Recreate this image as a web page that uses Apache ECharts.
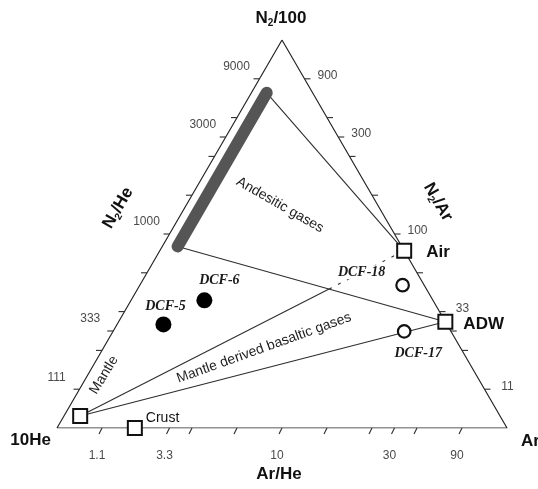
<!DOCTYPE html>
<html><head><meta charset="utf-8">
<script src="https://cdn.jsdelivr.net/npm/echarts@6/dist/echarts.min.js"></script>
<style>html,body{margin:0;padding:0;background:#fff}#c{width:538px;height:489px}</style>
</head><body><div id="c"></div>
<script>
// ---- DATA (ternary fractions: N2/100 , 10He , Ar ; He = 1 - N2 - Ar) ----
const tickFractions = [0.1, 0.2, 0.25, 0.3, 0.4, 0.5, 0.6, 0.7, 0.75, 0.8, 0.9];
const bottomTickFractions = [0.1, 0.25, 0.3, 0.4, 0.5, 0.6, 0.7, 0.75, 0.8, 0.9];

const n2HeTickLabels = ['111', '333', '1000', '3000', '9000'];
const n2HeLabelFractions = [0.1, 0.25, 0.5, 0.75, 0.9];
const n2ArTickLabels = ['11', '33', '100', '300', '900'];
const n2ArLabelFractions = [0.1, 0.3, 0.5, 0.75, 0.9];
const arHeTickLabels = ['1.1', '3.3', '10', '30', '90'];
const arHeLabelFractions = [0.1, 0.25, 0.5, 0.75, 0.9];

const endmemberNames = ['Air', 'ADW', 'Mantle', 'Crust'];
const endmemberN2 = [0.457, 0.274, 0.031, 0.0];
const endmemberAr = [0.543, 0.726, 0.036, 0.173];

const sampleNames = ['DCF-5', 'DCF-6', 'DCF-18', 'DCF-17'];
const sampleN2 = [0.267, 0.329, 0.368, 0.249];
const sampleAr = [0.103, 0.163, 0.584, 0.647];

const andesiticEnds = ['upper', 'lower'];
const andesiticN2 = [0.864, 0.468];
const andesiticAr = [0.034, 0.034];

// ---- helpers ----
const SQ3 = Math.sqrt(3) / 2;
function toXY(n, a) { return [a + n / 2, n * SQ3]; }
function em(name) { const i = endmemberNames.indexOf(name); return toXY(endmemberN2[i], endmemberAr[i]); }
function intersect(p1, p2, p3, p4) {
  const d = (p1[0]-p2[0])*(p3[1]-p4[1]) - (p1[1]-p2[1])*(p3[0]-p4[0]);
  const t = ((p1[0]-p3[0])*(p3[1]-p4[1]) - (p1[1]-p3[1])*(p3[0]-p4[0])) / d;
  return [p1[0] + t*(p2[0]-p1[0]), p1[1] + t*(p2[1]-p1[1])];
}

const vL = toXY(0, 0), vR = toXY(0, 1), vT = toXY(1, 0);
const bandTop = toXY(andesiticN2[0], andesiticAr[0]);
const bandBot = toXY(andesiticN2[1], andesiticAr[1]);
const pAir = em('Air'), pADW = em('ADW'), pMantle = em('Mantle'), pCrust = em('Crust');
const pX = intersect(pMantle, pAir, bandBot, pADW);

// tick items
const SIDE = {
  left:   { dx: -6, dy: 0, lx: -23, ly: -12 },
  right:  { dx: 6,  dy: 0, lx: 23,  ly: -3 },
  bottom: { dx: -3, dy: 6, lx: -5,  ly: 28 }
};
const tickItems = [];
tickFractions.forEach(f => tickItems.push({ side: 'left', p: toXY(f, 0) }));
tickFractions.forEach(f => tickItems.push({ side: 'right', p: toXY(f, 1 - f) }));
bottomTickFractions.forEach(f => tickItems.push({ side: 'bottom', p: toXY(0, f) }));
n2HeLabelFractions.forEach((f, i) => tickItems.push({ side: 'left', p: toXY(f, 0), label: n2HeTickLabels[i] }));
n2ArLabelFractions.forEach((f, i) => tickItems.push({ side: 'right', p: toXY(f, 1 - f), label: n2ArTickLabels[i] }));
arHeLabelFractions.forEach((f, i) => tickItems.push({ side: 'bottom', p: toXY(0, f), label: arHeTickLabels[i] }));

const SANS = '"Liberation Sans", Arial, sans-serif';
const SERIF = '"Liberation Serif", "Times New Roman", serif';
const LINE = '#2e2e2e';

function seg(a, b, extra) {
  return Object.assign({
    type: 'line', data: [a, b], symbol: 'none', silent: true, z: 2,
    lineStyle: { color: LINE, width: 1.1 }, animation: false
  }, extra || {});
}

const sampleLabelOffsets = [[2, -18], [15, -20], [-41, -13], [14, 22]];
const sampleData = sampleNames.map((nm, i) => ({
  value: toXY(sampleN2[i], sampleAr[i]),
  name: nm,
  label: {
    show: true, position: 'inside', offset: sampleLabelOffsets[i], formatter: nm,
    fontFamily: SERIF, fontWeight: 'bold', fontStyle: 'italic', fontSize: 14, color: '#1a1a1a',
    backgroundColor: i === 2 ? '#fff' : 'transparent', padding: [0, 1]
  }
}));

const emLabelCfg = {
  Air:   { offset: [22, 2], fontSize: 17, fontWeight: 'bold' },
  ADW:   { offset: [18, 3], fontSize: 17, fontWeight: 'bold' },
  Crust: { offset: [11, -10], fontSize: 14, fontWeight: 'normal' }
};
const emData = endmemberNames.map((nm, i) => {
  const c = emLabelCfg[nm];
  return {
    value: toXY(endmemberN2[i], endmemberAr[i]), name: nm,
    label: c ? {
      show: true, position: 'inside', align: 'left', offset: c.offset, formatter: nm,
      fontFamily: SANS, fontSize: c.fontSize, fontWeight: c.fontWeight, color: '#111'
    } : { show: false }
  };
});

const chart = echarts.init(document.getElementById('c'), null, { renderer: 'canvas' });

const subRich = {
  b: { fontFamily: SANS, fontWeight: 'bold', fontSize: 17, fill: '#111', lineHeight: 20, verticalAlign: 'middle' },
  s: { fontFamily: SANS, fontWeight: 'bold', fontSize: 10, fill: '#111', lineHeight: 20, verticalAlign: 'bottom' }
};
function txt(x, y, text, opt) {
  return {
    type: 'text', x: x, y: y, rotation: (opt && opt.rot) || 0, silent: true, z: 10,
    style: Object.assign({
      text: text, align: 'center', verticalAlign: 'middle',
      fontFamily: SANS, fontSize: 14, fill: '#1e1e1e'
    }, (opt && opt.style) || {})
  };
}
const boldStyle = { fontWeight: 'bold', fontSize: 17, fill: '#111' };

chart.setOption({
  animation: false,
  backgroundColor: '#fff',
  grid: { left: 57, right: 31, top: 40, bottom: 61, show: false },
  xAxis: { type: 'value', min: 0, max: 1, show: false },
  yAxis: { type: 'value', min: 0, max: SQ3, show: false },
  series: [
    { type: 'line', data: [vL, vR, vT, vL], symbol: 'none', silent: true, z: 2,
      lineStyle: { color: '#262626', width: 1.2 }, animation: false },
    seg(bandTop, pAir),
    seg(bandBot, pADW),
    seg(pMantle, pADW),
    seg(pMantle, pX),
    seg(pX, pAir, { lineStyle: { color: LINE, width: 1.1, type: [3, 7] } }),
    { type: 'line', data: [bandTop, bandBot], symbol: 'none', silent: true, z: 3,
      lineStyle: { color: '#555', width: 12, cap: 'round' }, animation: false },
    { type: 'custom', coordinateSystem: 'cartesian2d', clip: false, silent: true, z: 4,
      data: tickItems.map(t => t.p),
      renderItem: function (params, api) {
        const t = tickItems[params.dataIndex];
        const c = api.coord(t.p);
        const st = SIDE[t.side];
        if (t.label) {
          return { type: 'text', x: c[0] + st.lx, y: c[1] + st.ly,
            style: { text: t.label, fill: '#4a4a4a', fontFamily: SANS, fontSize: 12,
              align: 'center', verticalAlign: 'middle' } };
        }
        return { type: 'line', shape: { x1: c[0], y1: c[1], x2: c[0] + st.dx, y2: c[1] + st.dy },
          style: { stroke: '#2e2e2e', lineWidth: 1.1 } };
      }
    },
    { type: 'scatter', data: emData, symbol: 'rect', symbolSize: 14, z: 6, silent: true,
      itemStyle: { color: '#fff', borderColor: '#111', borderWidth: 2, opacity: 1 } },
    { type: 'scatter', data: sampleData.slice(0, 2), symbol: 'circle', symbolSize: 16, z: 6, silent: true,
      itemStyle: { color: '#000', opacity: 1 } },
    { type: 'scatter', data: sampleData.slice(2), symbol: 'circle', symbolSize: 12.5, z: 6, silent: true,
      itemStyle: { color: '#fff', borderColor: '#111', borderWidth: 2.2, opacity: 1 } }
  ],
  graphic: [
    txt(281, 18, '{b|N}{s|2}{b|/100}', { style: { rich: subRich } }),
    txt(51, 440, '10He', { style: Object.assign({ align: 'right' }, boldStyle) }),
    txt(521, 441, 'Ar', { style: Object.assign({ align: 'left' }, boldStyle) }),
    txt(279, 474, 'Ar/He', { style: boldStyle }),
    txt(118, 208, '{b|N}{s|2}{b|/He}', { rot: Math.PI / 3, style: { rich: subRich } }),
    txt(438, 202, '{b|N}{s|2}{b|/Ar}', { rot: -Math.PI / 3, style: { rich: subRich } }),
    txt(280, 205, 'Andesitic gases', { rot: -0.52 }),
    txt(264, 348, 'Mantle derived basaltic gases', { rot: 0.345 }),
    txt(104, 375, 'Mantle', { rot: 1.02 })
  ]
});
</script>
</body></html>
